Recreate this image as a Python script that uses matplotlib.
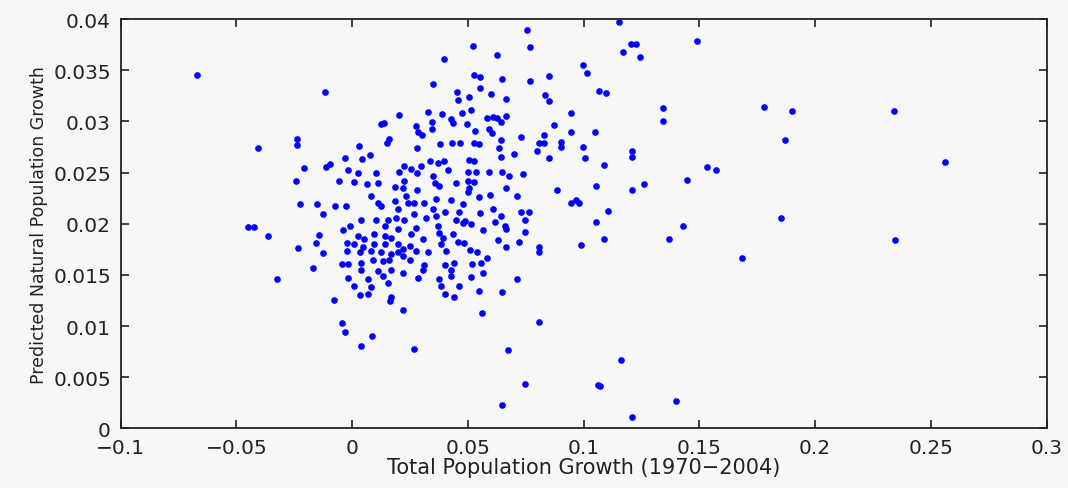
import matplotlib.pyplot as plt

# total population growth (1970-2004) vs predicted natural growth
growth_total = [
    -0.0669, -0.0118, -0.0407, -0.0239, -0.0239, -0.0029, -0.0209, -0.0112, -0.0095, -0.0020,
    -0.0243, -0.0058, -0.0227, -0.0150, -0.0073, -0.0124,
    -0.0450, -0.0422, -0.0363, -0.0236, -0.0142, -0.0155, -0.0125, -0.0038, -0.0023, -0.0023,
    -0.0043, -0.0017, -0.0171, -0.0325, -0.0020, -0.0079, -0.0043, -0.0029,
    0.0395, 0.0350, 0.0453, 0.0456, 0.0203, 0.0329, 0.0390, 0.0473, 0.0125, 0.0139,
    0.0275, 0.0344, 0.0344, 0.0427, 0.0434, 0.0286, 0.0300, 0.0161, 0.0151, 0.0030,
    0.0278, 0.0381, 0.0432, 0.0466, 0.0041, 0.0078, 0.0223, 0.0252, 0.0298, 0.0338,
    0.0370, 0.0398, 0.0024, 0.0101, 0.0201, 0.0413,
    0.0281, 0.0348, 0.0449, 0.0010, 0.0065, 0.0111, 0.0183, 0.0226, 0.0219, 0.0281,
    0.0358, 0.0377, -0.0026, 0.0082, 0.0111, 0.0125, 0.0183, 0.0233, 0.0240, 0.0269,
    0.0312, 0.0363, 0.0427, 0.0478, 0.0197, 0.0269, 0.0348, 0.0399, 0.0463, 0.0039,
    0.0104, 0.0154, 0.0190, 0.0226, 0.0320, 0.0363, 0.0449, -0.0011, 0.0140, 0.0197,
    0.0276, 0.0370, 0.0478, 0.0025, 0.0053, 0.0096, 0.0140, 0.0168, 0.0255, 0.0305,
    0.0377, 0.0391, 0.0435, 0.0010, 0.0046, 0.0096, 0.0140, 0.0197, 0.0219, 0.0248,
    0.0384, 0.0456, 0.0032, 0.0082, 0.0125, 0.0168, 0.0197, 0.0219, 0.0276, 0.0327,
    0.0406, 0.0039, 0.0089, 0.0132, 0.0161, 0.0248, 0.0312, 0.0399, 0.0442, 0.0039,
    0.0111, 0.0168, 0.0219, 0.0305, 0.0427, 0.0068, 0.0132, 0.0284, 0.0377, 0.0427,
    0.0010, 0.0082, 0.0154, 0.0384, 0.0463, 0.0032, 0.0068, 0.0168, 0.0399, 0.0442,
    0.0165, 0.0218, 0.0086, 0.0039, 0.0266,
    0.0754, 0.0523, 0.0768, 0.0624, 0.0998, 0.1014, 0.0528, 0.0552, 0.0647, 0.0768,
    0.0851, 0.0552, 0.0503, 0.0600, 0.0664, 0.0831, 0.0849, 0.0515, 0.0581, 0.0607,
    0.0624, 0.0664, 0.0495, 0.0643, 0.0590, 0.0604, 0.0530, 0.0946, 0.0873, 0.0946,
    0.1047, 0.0830, 0.0730, 0.0528, 0.0549, 0.0643, 0.0805, 0.0830, 0.0902, 0.0902,
    0.0636, 0.0797, 0.0998, 0.0643, 0.0700, 0.0849, 0.1007, 0.0506, 0.0525, 0.0499,
    0.0535, 0.0592, 0.0647, 0.0736,
    0.0679, 0.0499, 0.0528, 0.0506, 0.0499, 0.0664, 0.0546, 0.0595, 0.0710, 0.0885,
    0.0945, 0.0967, 0.0978, 0.1053, 0.0610, 0.0729, 0.0762, 0.0552, 0.0643, 0.0618,
    0.0662, 0.0664, 0.0748, 0.0489, 0.0515, 0.0564, 0.0748, 0.1053, 0.0485, 0.0630,
    0.0722, 0.0805, 0.0808, 0.0664, 0.0988, 0.0509, 0.0538, 0.0581, 0.0518, 0.0557,
    0.0564, 0.0515, 0.0710, 0.0546, 0.0647,
    0.0561, 0.0808, 0.0672, 0.0745, 0.0647,
    0.1154, 0.1489, 0.1204, 0.1226, 0.1172, 0.1244, 0.1067, 0.1096, 0.1341, 0.1341,
    0.1779, 0.1902, 0.2340, 0.1870, 0.1207, 0.1207, 0.1089, 0.1532, 0.1572, 0.2559,
    0.1207, 0.1261, 0.1446, 0.1103, 0.1854,
    0.1431, 0.1089, 0.1370, 0.2345, 0.1684, 0.1161, 0.1060, 0.1072, 0.1401, 0.1208,
]
growth_natural = [
    0.0345, 0.0329, 0.0274, 0.0283, 0.0277, 0.0264, 0.0254, 0.0255, 0.0258, 0.0252,
    0.0242, 0.0242, 0.0219, 0.0219, 0.0217, 0.0209,
    0.0197, 0.0197, 0.0188, 0.0176, 0.0189, 0.0181, 0.0171, 0.0194, 0.0181, 0.0173,
    0.0161, 0.0161, 0.0157, 0.0146, 0.0147, 0.0125, 0.0103, 0.0094,
    0.0361, 0.0337, 0.0329, 0.0321, 0.0306, 0.0309, 0.0307, 0.0308, 0.0297, 0.0298,
    0.0295, 0.0299, 0.0293, 0.0302, 0.0298, 0.0290, 0.0287, 0.0283, 0.0279, 0.0276,
    0.0274, 0.0278, 0.0279, 0.0279, 0.0263, 0.0267, 0.0256, 0.0253, 0.0256, 0.0261,
    0.0259, 0.0261, 0.0250, 0.0250, 0.0251, 0.0252,
    0.0250, 0.0247, 0.0240, 0.0241, 0.0239, 0.0240, 0.0236, 0.0242, 0.0235, 0.0233,
    0.0240, 0.0237, 0.0217, 0.0227, 0.0220, 0.0217, 0.0222, 0.0227, 0.0220, 0.0220,
    0.0220, 0.0224, 0.0223, 0.0219, 0.0214, 0.0209, 0.0214, 0.0211, 0.0211, 0.0204,
    0.0204, 0.0204, 0.0206, 0.0204, 0.0206, 0.0208, 0.0204, 0.0198, 0.0198, 0.0195,
    0.0196, 0.0198, 0.0201, 0.0188, 0.0185, 0.0190, 0.0188, 0.0186, 0.0190, 0.0185,
    0.0191, 0.0186, 0.0190, 0.0180, 0.0177, 0.0180, 0.0180, 0.0180, 0.0175, 0.0178,
    0.0180, 0.0182, 0.0172, 0.0173, 0.0172, 0.0170, 0.0172, 0.0168, 0.0173, 0.0172,
    0.0173, 0.0162, 0.0165, 0.0164, 0.0165, 0.0165, 0.0160, 0.0160, 0.0162, 0.0155,
    0.0154, 0.0155, 0.0152, 0.0155, 0.0155, 0.0146, 0.0149, 0.0147, 0.0146, 0.0149,
    0.0139, 0.0138, 0.0142, 0.0139, 0.0139, 0.0130, 0.0131, 0.0128, 0.0131, 0.0128,
    0.0124, 0.0116, 0.0090, 0.0080, 0.0078,
    0.0389, 0.0374, 0.0373, 0.0365, 0.0355, 0.0347, 0.0345, 0.0343, 0.0341, 0.0339,
    0.0344, 0.0333, 0.0324, 0.0327, 0.0322, 0.0326, 0.0320, 0.0311, 0.0303, 0.0304,
    0.0303, 0.0305, 0.0297, 0.0299, 0.0293, 0.0289, 0.0291, 0.0308, 0.0296, 0.0290,
    0.0290, 0.0287, 0.0285, 0.0279, 0.0278, 0.0282, 0.0279, 0.0279, 0.0280, 0.0275,
    0.0274, 0.0271, 0.0275, 0.0265, 0.0268, 0.0264, 0.0264, 0.0262, 0.0261, 0.0251,
    0.0251, 0.0251, 0.0251, 0.0249,
    0.0247, 0.0242, 0.0241, 0.0235, 0.0231, 0.0235, 0.0226, 0.0228, 0.0227, 0.0233,
    0.0220, 0.0223, 0.0220, 0.0237, 0.0214, 0.0211, 0.0211, 0.0210, 0.0208, 0.0202,
    0.0198, 0.0195, 0.0204, 0.0203, 0.0200, 0.0194, 0.0192, 0.0202, 0.0181, 0.0184,
    0.0182, 0.0177, 0.0172, 0.0177, 0.0179, 0.0174, 0.0172, 0.0166, 0.0161, 0.0162,
    0.0152, 0.0148, 0.0146, 0.0134, 0.0133,
    0.0113, 0.0104, 0.0077, 0.0043, 0.0023,
    0.0397, 0.0379, 0.0376, 0.0376, 0.0368, 0.0363, 0.0330, 0.0328, 0.0313, 0.0300,
    0.0314, 0.0310, 0.0310, 0.0282, 0.0271, 0.0265, 0.0257, 0.0255, 0.0252, 0.0260,
    0.0233, 0.0239, 0.0243, 0.0212, 0.0206,
    0.0198, 0.0185, 0.0185, 0.0184, 0.0166, 0.0067, 0.0042, 0.0041, 0.0027, 0.0011,
]

x_ticks = [-0.1, -0.05, 0, 0.05, 0.1, 0.15, 0.2, 0.25, 0.3]
x_labels = ['\u22120.1', '\u22120.05', '0', '0.05', '0.1', '0.15', '0.2', '0.25', '0.3']
y_ticks = [0, 0.005, 0.01, 0.015, 0.02, 0.025, 0.03, 0.035, 0.04]
y_labels = ['0', '0.005', '0.01', '0.015', '0.02', '0.025', '0.03', '0.035', '0.04']

bg = '#f7f7f7'
ink = '#222222'

fig = plt.figure(figsize=(10.68, 4.89), dpi=100, facecolor=bg)
ax = fig.add_axes([0.113, 0.122, 0.867, 0.837], facecolor=bg)

ax.plot(growth_total, growth_natural, 'o', color='blue', markersize=4.8, markeredgewidth=0)

ax.set_xlim(-0.1, 0.3)
ax.set_ylim(0, 0.04)
ax.set_xticks(x_ticks)
ax.set_xticklabels(x_labels)
ax.set_yticks(y_ticks)
ax.set_yticklabels(y_labels)
ax.tick_params(direction='in', length=6, width=1.2, top=True, right=True,
               labelsize=14.5, colors=ink, pad=7)

for s in ax.spines.values():
    s.set_linewidth(1.3)
    s.set_color(ink)

ax.set_xlabel('Total Population Growth (1970\u22122004)', fontsize=15, color=ink, labelpad=0)
ax.set_ylabel('Predicted Natural Population Growth', fontsize=12.5, color=ink, labelpad=4)

fig.savefig('out.png', dpi=100, facecolor=bg)
